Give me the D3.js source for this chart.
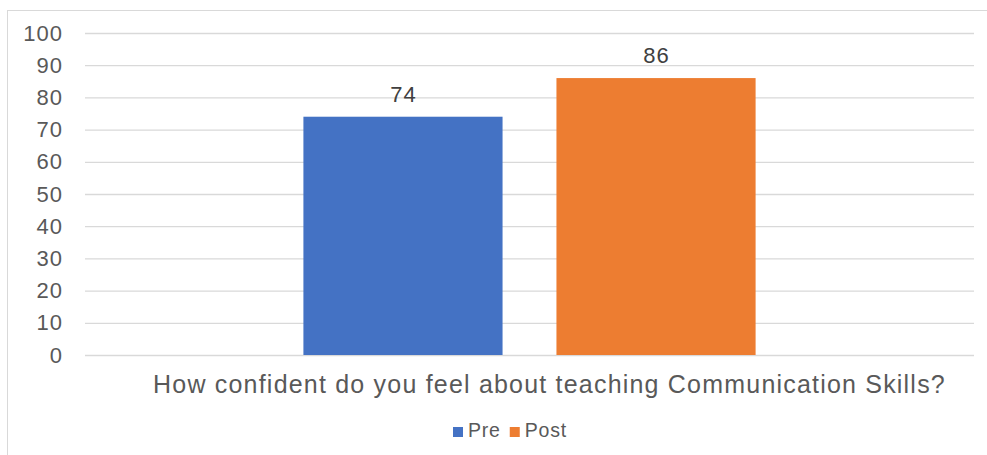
<!DOCTYPE html>
<html>
<head>
<meta charset="utf-8">
<script src="https://cdn.jsdelivr.net/npm/d3@7"></script>
<style>
  html, body { margin: 0; padding: 0; background: #fff; }
  svg { display: block; font-family: "Liberation Sans", Arial, Helvetica, sans-serif; }
</style>
</head>
<body>
<svg id="chart" width="987" height="455"></svg>
<script>
// Survey question and the two response series
const categories = ["How confident do you feel about teaching Communication Skills?"];
const seriesNames = ["Pre", "Post"];
const preValues = [74];
const postValues = [86];
const yTicks = [0, 10, 20, 30, 40, 50, 60, 70, 80, 90, 100];
const colors = { Pre: "#4472C4", Post: "#ED7D31" };

const rows = categories.map((c, i) => ({
  category: c,
  values: [
    { key: "Pre", value: preValues[i] },
    { key: "Post", value: postValues[i] }
  ]
}));

const svg = d3.select("#chart");
const W = 987, H = 455;
const plot = { left: 85, right: 974, top: 33, bottom: 355 };

// Outer chart frame
svg.append("rect")
  .attr("x", 7.5).attr("y", 10.5)
  .attr("width", W + 10).attr("height", H + 10)
  .attr("fill", "#fff").attr("stroke", "#d9d9d9").attr("stroke-width", 1);

const y = d3.scaleLinear().domain([0, 100]).range([plot.bottom, plot.top]);

const x0 = d3.scaleBand()
  .domain(categories)
  .range([plot.left, plot.right])
  .paddingInner(0)
  .paddingOuter(0.483);

const x1 = d3.scaleBand()
  .domain(seriesNames)
  .range([0, x0.bandwidth()])
  .paddingInner(0.213)
  .paddingOuter(0);

// Horizontal gridlines and value axis labels
const yAxis = d3.axisLeft(y)
  .tickValues(yTicks)
  .tickSize(-(plot.right - plot.left))
  .tickPadding(22)
  .tickFormat(d3.format("d"));

const gy = svg.append("g")
  .attr("transform", `translate(${plot.left},0)`)
  .call(yAxis);
gy.select(".domain").remove();
gy.selectAll(".tick line").attr("stroke", "#d9d9d9").attr("stroke-width", 1.3);
gy.selectAll(".tick text")
  .attr("fill", "#595959")
  .style("font-size", "22px")
  .style("letter-spacing", "1px");

// Bars
const groups = svg.append("g").selectAll("g")
  .data(rows)
  .join("g")
  .attr("transform", d => `translate(${x0(d.category)},0)`);

groups.selectAll("rect")
  .data(d => d.values)
  .join("rect")
  .attr("x", d => x1(d.key))
  .attr("y", d => y(d.value))
  .attr("width", x1.bandwidth())
  .attr("height", d => y(0) - y(d.value))
  .attr("fill", d => colors[d.key]);

// Value labels
groups.selectAll("text")
  .data(d => d.values)
  .join("text")
  .attr("x", d => x1(d.key) + x1.bandwidth() / 2 + 0.5)
  .attr("y", d => y(d.value) - 15)
  .attr("text-anchor", "middle")
  .attr("fill", "#404040")
  .style("font-size", "22px")
  .style("letter-spacing", "1px")
  .text(d => d.value);

// Category label
svg.append("g").selectAll("text")
  .data(categories)
  .join("text")
  .attr("x", d => x0(d) + x0.bandwidth() / 2 + 20)
  .attr("y", 393)
  .attr("text-anchor", "middle")
  .attr("fill", "#595959")
  .style("font-size", "25px")
  .style("letter-spacing", "1.2px")
  .text(d => d);

// Legend
const legend = svg.append("g").attr("transform", "translate(453,427)");
let lx = 0;
seriesNames.forEach(name => {
  const item = legend.append("g").attr("transform", `translate(${lx},0)`);
  item.append("rect").attr("width", 10).attr("height", 10).attr("fill", colors[name]);
  const t = item.append("text")
    .attr("x", 15).attr("y", 9.5)
    .attr("fill", "#595959")
    .style("font-size", "19.5px")
    .style("letter-spacing", "0.8px")
    .text(name);
  lx += 15 + t.node().getComputedTextLength() + 9;
});
</script>
</body>
</html>
